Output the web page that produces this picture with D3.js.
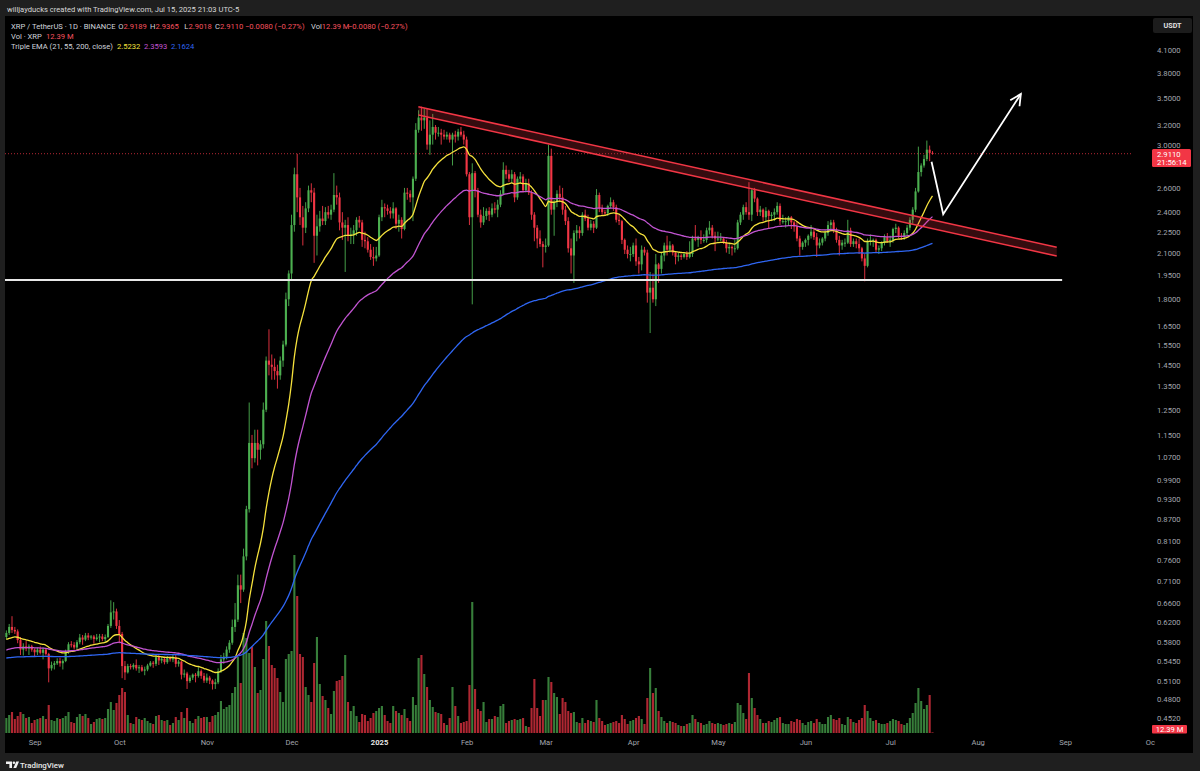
<!DOCTYPE html>
<html><head><meta charset="utf-8">
<script src="https://cdn.jsdelivr.net/npm/d3@7"></script>
<style>
html,body{margin:0;padding:0;background:#1f1f1f;}
svg{display:block;font-family:Roboto,"Noto Sans",sans-serif;}
</style></head><body>
<svg id="chart" width="1200" height="771"></svg>
<script>
// ---------------- DATA (XRP/USDT, 1D, Binance) ----------------
const START_DAY = "2024-08-22"; // first candle, one candle per day
const OPEN = [
 .590,.598,.610,.604,.601,.584,.566,.572,.568,.572,
 .566,.561,.566,.560,.566,.558,.532,.538,.541,.545,.541,.545,.562,.576,.575,.570,.580,.589,.585,.593,.589,.591,.586,.589,.591,.586,.590,.612,.640,.642,
 .612,.596,.536,.525,.536,.534,.538,.532,.534,.528,.530,.537,.542,.540,.552,.546,.549,.543,.551,.548,.552,.540,.544,.521,.523,.510,.516,.521,.519,.527,.519,
 .511,.516,.511,.505,.508,.527,.548,.553,.566,.579,.610,.625,.700,.690,.770,.900,1.120,1.065,1.120,1.095,1.115,1.250,1.470,1.450,1.440,1.420,1.400,1.470,1.550,1.800,
 1.960,2.300,2.720,2.520,2.360,2.280,2.430,2.580,2.560,2.220,2.290,2.350,2.330,2.400,2.380,2.420,2.540,2.520,2.320,2.280,2.300,2.220,2.230,2.260,2.340,2.320,2.190,2.180,2.120,2.070,2.060,
 2.080,2.360,2.440,2.430,2.410,2.390,2.430,2.310,2.340,2.270,2.560,2.550,2.520,2.680,3.150,3.280,3.250,3.280,3.000,3.100,3.180,3.120,3.120,3.100,3.080,3.100,3.050,3.100,3.080,3.130,3.100,
 3.050,2.720,2.360,2.730,2.580,2.380,2.320,2.370,2.410,2.380,2.430,2.420,2.460,2.550,2.760,2.720,2.680,2.720,2.520,2.680,2.700,2.580,2.640,2.560,2.380,2.280,2.200,2.160,
 2.140,2.150,2.890,2.420,2.480,2.550,2.520,2.420,2.330,2.130,2.080,2.240,2.260,2.240,2.380,2.350,2.280,2.310,2.280,2.540,2.430,2.400,2.390,2.450,2.480,2.440,2.340,2.330,2.190,2.120,2.090,
 2.090,2.150,2.040,2.020,2.120,2.100,1.840,1.870,1.800,2.020,1.990,2.080,2.150,2.120,2.150,2.100,2.070,2.080,2.070,2.090,2.070,2.090,2.200,2.190,2.210,2.190,2.190,2.260,2.280,2.220,
 2.200,2.200,2.200,2.170,2.130,2.140,2.130,2.130,2.320,2.380,2.440,2.400,2.380,2.580,2.510,2.400,2.420,2.360,2.410,2.370,2.380,2.400,2.450,2.330,2.330,2.330,2.360,2.320,2.290,2.200,2.140,
 2.170,2.190,2.220,2.250,2.210,2.150,2.170,2.200,2.240,2.300,2.320,2.260,2.190,2.150,2.170,2.170,2.260,2.160,2.180,2.160,2.130,2.060,2.010,2.180,2.190,2.190,2.120,2.130,2.170,2.210,
 2.180,2.190,2.270,2.280,2.220,2.210,2.240,2.280,2.340,2.420,2.570,2.740,2.800,2.860,2.950,2.9189];
const HIGH = [
 .603,.616,.632,.610,.605,.590,.578,.582,.576,.575,
 .568,.570,.572,.570,.569,.560,.544,.545,.550,.551,.548,.566,.580,.582,.580,.584,.596,.594,.598,.598,.594,.594,.596,.596,.596,.595,.616,.666,.662,.648,
 .624,.600,.545,.540,.540,.541,.548,.538,.538,.535,.540,.545,.545,.556,.558,.553,.552,.554,.553,.556,.557,.547,.545,.530,.526,.520,.523,.524,.534,.530,.524,
 .523,.519,.513,.514,.532,.556,.560,.572,.584,.625,.660,.725,.725,.790,.910,1.280,1.150,1.170,1.170,1.130,1.280,1.490,1.630,1.500,1.480,1.450,1.490,1.570,1.840,1.980,
 2.380,2.780,2.910,2.600,2.450,2.480,2.620,2.640,2.600,2.380,2.410,2.450,2.440,2.450,2.460,2.730,2.620,2.560,2.400,2.340,2.360,2.280,2.300,2.360,2.370,2.340,2.250,2.210,2.160,2.140,2.140,
 2.380,2.500,2.470,2.460,2.440,2.480,2.440,2.380,2.360,2.600,2.600,2.580,2.700,3.220,3.360,3.400,3.380,3.380,3.250,3.320,3.200,3.180,3.160,3.150,3.130,3.120,3.120,3.140,3.160,3.180,3.140,
 3.080,2.740,2.820,2.750,2.600,2.420,2.440,2.430,2.440,2.470,2.480,2.500,2.580,2.830,2.800,2.760,2.760,2.740,2.700,2.740,2.720,2.680,2.680,2.580,2.400,2.300,2.260,2.180,
 2.200,3.000,2.960,2.500,2.580,2.620,2.600,2.450,2.360,2.200,2.260,2.300,2.290,2.400,2.420,2.380,2.340,2.330,2.590,2.560,2.460,2.420,2.460,2.520,2.500,2.460,2.380,2.340,2.200,2.150,2.140,
 2.170,2.200,2.070,2.150,2.140,2.120,1.970,1.960,2.090,2.030,2.100,2.170,2.220,2.180,2.160,2.110,2.100,2.090,2.100,2.110,2.180,2.220,2.300,2.220,2.260,2.230,2.280,2.330,2.300,2.250,
 2.250,2.240,2.210,2.190,2.160,2.150,2.190,2.340,2.400,2.460,2.480,2.650,2.600,2.600,2.520,2.450,2.430,2.440,2.420,2.400,2.430,2.480,2.470,2.380,2.360,2.370,2.370,2.330,2.330,2.220,2.180,
 2.200,2.230,2.300,2.270,2.240,2.200,2.210,2.260,2.330,2.340,2.340,2.280,2.220,2.190,2.200,2.340,2.280,2.200,2.200,2.200,2.140,2.090,2.200,2.230,2.200,2.200,2.150,2.180,2.230,2.240,
 2.220,2.280,2.310,2.290,2.240,2.260,2.300,2.360,2.440,2.600,2.980,2.820,2.900,3.040,2.990,2.9365];
const LOW = [
 .585,.594,.598,.596,.578,.556,.555,.563,.556,.562,
 .553,.556,.557,.548,.555,.508,.528,.530,.538,.535,.530,.543,.558,.570,.566,.566,.576,.575,.582,.584,.585,.577,.583,.580,.582,.581,.588,.608,.625,.606,
 .578,.515,.512,.523,.530,.530,.528,.524,.526,.520,.527,.535,.533,.536,.538,.541,.539,.540,.544,.543,.534,.535,.513,.516,.497,.507,.512,.508,.516,.514,.507,
 .507,.505,.496,.497,.505,.524,.540,.548,.560,.575,.600,.620,.660,.685,.760,.890,1.030,1.050,1.040,1.060,1.100,1.240,1.400,1.380,1.380,1.340,1.380,1.440,1.540,1.760,
 1.920,2.250,2.400,2.300,2.150,2.240,2.400,2.480,2.030,2.080,2.250,2.300,2.300,2.350,2.340,2.400,2.460,2.260,2.190,1.970,2.180,2.160,2.160,2.220,2.280,2.140,2.130,2.100,2.050,2.010,2.040,
 2.070,2.330,2.360,2.380,2.350,2.350,2.270,2.250,2.200,2.260,2.500,2.480,2.330,2.660,3.120,3.140,3.160,2.950,2.900,3.000,3.050,3.080,3.000,3.050,3.050,3.020,2.800,3.020,3.040,3.080,3.000,
 2.700,2.300,1.770,2.520,2.360,2.280,2.300,2.340,2.330,2.360,2.390,2.360,2.440,2.540,2.680,2.650,2.640,2.480,2.500,2.640,2.560,2.560,2.540,2.340,2.180,2.130,2.140,2.000,
 2.100,2.140,2.380,2.220,2.440,2.480,2.380,2.300,2.100,1.960,1.900,2.180,2.200,2.220,2.330,2.260,2.260,2.240,2.270,2.400,2.380,2.370,2.370,2.430,2.410,2.320,2.300,2.160,2.090,2.060,2.040,
 2.070,2.010,1.960,1.980,2.080,1.780,1.610,1.780,1.760,1.900,1.960,2.040,2.080,2.100,2.080,2.020,2.040,2.050,2.060,2.050,2.060,2.070,2.180,2.140,2.160,2.170,2.170,2.230,2.200,2.110,
 2.180,2.180,2.160,2.100,2.090,2.080,2.100,2.120,2.300,2.340,2.380,2.340,2.330,2.480,2.370,2.370,2.330,2.330,2.270,2.330,2.330,2.380,2.300,2.310,2.280,2.300,2.270,2.250,2.180,2.080,2.120,
 2.140,2.150,2.200,2.190,2.070,2.130,2.150,2.180,2.220,2.260,2.240,2.170,2.080,2.120,2.140,2.160,2.140,2.140,2.130,2.090,2.040,1.910,2.000,2.150,2.140,2.100,2.090,2.110,2.150,2.170,
 2.140,2.170,2.240,2.200,2.190,2.190,2.220,2.260,2.310,2.400,2.560,2.700,2.780,2.840,2.840,2.9018];
const CLOSE = [
 .598,.610,.604,.601,.584,.566,.572,.568,.572,.566,
 .561,.566,.560,.566,.558,.532,.538,.541,.545,.541,.545,.562,.576,.575,.570,.580,.589,.585,.593,.589,.591,.586,.589,.591,.586,.590,.612,.640,.642,.612,
 .596,.536,.525,.536,.534,.538,.532,.534,.528,.530,.537,.542,.540,.552,.546,.549,.543,.551,.548,.552,.540,.544,.521,.523,.510,.516,.521,.519,.527,.519,.511,
 .516,.511,.505,.508,.527,.548,.553,.566,.579,.610,.625,.700,.690,.770,.900,1.120,1.065,1.120,1.095,1.115,1.250,1.470,1.450,1.440,1.420,1.400,1.470,1.550,1.800,1.960,
 2.300,2.720,2.520,2.360,2.280,2.430,2.580,2.560,2.220,2.290,2.350,2.330,2.400,2.380,2.420,2.540,2.520,2.320,2.280,2.300,2.220,2.230,2.260,2.340,2.320,2.190,2.180,2.120,2.070,2.060,2.080,
 2.360,2.440,2.430,2.410,2.390,2.430,2.310,2.340,2.270,2.560,2.550,2.520,2.680,3.150,3.280,3.250,3.280,3.000,3.100,3.180,3.120,3.120,3.100,3.080,3.100,3.050,3.100,3.080,3.130,3.100,3.050,
 2.720,2.360,2.730,2.580,2.380,2.320,2.370,2.410,2.380,2.430,2.420,2.460,2.550,2.760,2.720,2.680,2.720,2.520,2.680,2.700,2.580,2.640,2.560,2.380,2.280,2.200,2.160,2.140,
 2.150,2.890,2.420,2.480,2.550,2.520,2.420,2.330,2.130,2.080,2.240,2.260,2.240,2.380,2.350,2.280,2.310,2.280,2.540,2.430,2.400,2.390,2.450,2.480,2.440,2.340,2.330,2.190,2.120,2.090,2.090,
 2.150,2.040,2.020,2.120,2.100,1.840,1.870,1.800,2.020,1.990,2.080,2.150,2.120,2.150,2.100,2.070,2.080,2.070,2.090,2.070,2.090,2.200,2.190,2.210,2.190,2.190,2.260,2.280,2.220,2.200,
 2.200,2.200,2.170,2.130,2.140,2.130,2.130,2.320,2.380,2.440,2.400,2.380,2.580,2.510,2.400,2.420,2.360,2.410,2.370,2.380,2.400,2.450,2.330,2.330,2.330,2.360,2.320,2.290,2.200,2.140,2.170,
 2.190,2.220,2.250,2.210,2.150,2.170,2.200,2.240,2.300,2.320,2.260,2.190,2.150,2.170,2.170,2.260,2.160,2.180,2.160,2.130,2.060,2.010,2.180,2.190,2.190,2.120,2.130,2.170,2.210,2.180,
 2.190,2.270,2.280,2.220,2.210,2.240,2.280,2.340,2.420,2.570,2.740,2.800,2.860,2.950,2.919,2.9110];
// volume, millions of XRP
const VOLUME = [
 300,360,420,280,340,420,380,300,320,200,
 260,280,300,340,280,560,260,240,300,280,300,340,420,220,200,320,380,340,380,300,180,220,280,300,280,300,480,620,460,600,
 760,900,820,360,200,180,320,280,260,300,240,200,180,340,360,260,240,260,160,200,320,260,420,300,500,240,200,280,340,300,320,
 320,220,340,360,420,640,480,520,560,800,920,1520,1000,2000,1900,1600,1720,1320,800,860,1480,2240,1740,1360,1300,1100,820,620,1480,1580,
 1640,3560,2740,1580,1520,920,760,620,1400,1920,980,740,660,500,380,840,1040,1060,1140,1560,620,440,540,340,220,380,360,240,300,400,440,
 500,540,360,240,200,540,440,400,360,480,300,240,720,560,1500,1560,1180,920,660,520,420,400,380,200,160,300,920,540,340,200,220,
 240,960,2620,880,480,440,620,220,280,280,340,320,540,580,200,240,260,280,260,280,300,140,120,500,1080,500,340,660,
 660,1120,1020,800,720,380,700,620,440,400,420,220,200,300,200,260,240,220,660,300,240,160,180,200,220,240,200,360,280,180,240,
 260,300,340,280,180,700,1300,800,900,440,320,240,200,240,220,200,160,140,140,180,200,360,280,220,200,160,180,240,200,180,
 200,180,160,180,200,180,220,600,560,400,280,1200,700,500,360,280,200,200,240,220,260,300,320,200,180,180,240,220,280,260,200,
 160,220,240,200,280,220,180,180,320,360,280,260,300,180,160,320,280,220,200,260,300,560,440,300,240,260,200,180,180,200,
 240,280,260,240,180,160,200,300,400,600,900,640,480,560,760,12.39];

// EMA periods and their values just before the first candle
const EMA_PERIODS = [21, 55, 200];
const EMA_SEEDS = [0.584, 0.564, 0.550];
const EMA_LAST = ["2.5232", "2.3593", "2.1624"];

// axis labels (the 2.8000 label sits under the last-price tag in the reference)
const PRICE_TICKS = [4.1,3.8,3.5,3.2,3.0,2.6,2.4,2.25,2.1,1.95,1.8,1.65,1.55,1.45,1.35,1.25,1.15,1.07,0.99,0.93,0.87,0.81,0.76,0.71,0.66,0.62,0.58,0.545,0.51,0.48,0.452];
const TIME_TICKS = ["2024-09-01","2024-10-01","2024-11-01","2024-12-01","2025-01-01","2025-02-01","2025-03-01","2025-04-01","2025-05-01","2025-06-01","2025-07-01","2025-08-01","2025-09-01","2025-10-01"];
const TIME_LABELS = ["Sep","Oct","Nov","Dec","2025","Feb","Mar","Apr","May","Jun","Jul","Aug","Sep","Oc"];

// drawings (date, price)
const TREND_UPPER = [["2025-01-14T22:00Z", 3.40], ["2025-08-29T00:00Z", 2.137]];
const TREND_LOWER = [["2025-01-14T22:00Z", 3.307], ["2025-08-29T00:00Z", 2.076]];
const SUPPORT = [["2024-08-21T12:00Z", 1.918], ["2025-08-30T22:00Z", 1.918]];
const ARROW = [["2025-07-15T16:00Z", 2.835], ["2025-07-19T19:00Z", 2.383], ["2025-08-16T07:00Z", 3.545]];
const LAST_PRICE = 2.9110;
const LAST_VOL = "12.39 M";
const COUNTDOWN = "21:56:14";

// ---------------- CHART ----------------
const W = 1200, H = 771;
const P = {l:5, t:16, r:1133, b:733};
const UP = "#4caf50", DOWN = "#f23645";
const VOL_UP = "rgba(76,175,80,0.72)", VOL_DOWN = "rgba(242,54,69,0.72)";
const EMA_COLORS = ["#f5e13c", "#c154d1", "#2f66f2"];
const AXIS_TXT = "#a3a6ae";

const svg = d3.select("#chart");
svg.append("rect").attr("width", W).attr("height", H).attr("fill", "#1f1f1f");
svg.append("rect").attr("x", 5).attr("y", 16).attr("width", 1188).attr("height", 737).attr("fill", "#000");

const parse = s => new Date(s.length === 10 ? s + "T00:00:00Z" : s);
const t0 = parse(START_DAY);
const dates = CLOSE.map((_, i) => d3.utcDay.offset(t0, i));

const x = d3.scaleUtc().domain([parse("2024-09-01"), parse("2025-09-01")]).range([34.6, 1065.2]);
const y = d3.scaleLog().domain([0.452, 4.1]).range([717.7, 50]);
const yv = d3.scaleLinear().domain([0, 3560]).range([P.b, 555]);

svg.append("clipPath").attr("id", "pane").append("rect")
  .attr("x", P.l).attr("y", P.t).attr("width", P.r - P.l).attr("height", P.b - P.t);
const g = svg.append("g").attr("clip-path", "url(#pane)");

// volume
const idx = d3.range(CLOSE.length);
const bw = 2.1;
g.append("g").selectAll("rect").data(idx).join("rect")
  .attr("x", i => x(dates[i]) - bw / 2).attr("width", bw)
  .attr("y", i => yv(VOLUME[i])).attr("height", i => Math.max(0.6, yv(0) - yv(VOLUME[i])))
  .attr("fill", i => CLOSE[i] >= OPEN[i] ? VOL_UP : VOL_DOWN);

// candles
const gc = g.append("g");
gc.selectAll("line").data(idx).join("line")
  .attr("x1", i => x(dates[i])).attr("x2", i => x(dates[i]))
  .attr("y1", i => y(HIGH[i])).attr("y2", i => y(LOW[i]))
  .attr("stroke", i => CLOSE[i] >= OPEN[i] ? UP : DOWN).attr("stroke-width", 0.9);
gc.selectAll("rect").data(idx).join("rect")
  .attr("x", i => x(dates[i]) - bw / 2).attr("width", bw)
  .attr("y", i => y(Math.max(OPEN[i], CLOSE[i])))
  .attr("height", i => Math.max(1, y(Math.min(OPEN[i], CLOSE[i])) - y(Math.max(OPEN[i], CLOSE[i]))))
  .attr("fill", i => CLOSE[i] >= OPEN[i] ? UP : DOWN);

// EMAs
function ema(src, n, seed) { const a = 2 / (n + 1); let e = seed; return src.map(c => (e = a * c + (1 - a) * e)); }
const line = d3.line().x((d, i) => x(dates[i])).y(d => y(d)).curve(d3.curveMonotoneX);
EMA_PERIODS.forEach((n, k) => {
  g.append("path").datum(ema(CLOSE, n, EMA_SEEDS[k]))
    .attr("d", line).attr("fill", "none").attr("stroke", EMA_COLORS[k]).attr("stroke-width", 1.3);
});

// drawings
const px = d => [x(parse(d[0])), y(d[1])];
const U = TREND_UPPER.map(px), L = TREND_LOWER.map(px);
g.append("path").attr("d", d3.line()([U[0], U[1], L[1], L[0]]) + "Z").attr("fill", "rgba(242,54,69,0.22)");
[U, L].forEach(pts => g.append("path").attr("d", d3.line()(pts)).attr("stroke", "#f23645").attr("stroke-width", 1.5).attr("fill", "none"));
g.append("path").attr("d", d3.line()(SUPPORT.map(px))).attr("stroke", "#e8e8e8").attr("stroke-width", 2).attr("fill", "none");

svg.append("defs").append("marker").attr("id", "ah").attr("markerUnits", "userSpaceOnUse")
  .attr("viewBox", "-14 -8 16 16").attr("refX", 0).attr("refY", 0).attr("markerWidth", 16).attr("markerHeight", 16).attr("orient", "auto")
  .append("path").attr("d", "M-11,-5.5L0,0L-11,5.5").attr("fill", "none").attr("stroke", "#fff").attr("stroke-width", 1.8);
g.append("path").attr("d", d3.line()(ARROW.map(px))).attr("stroke", "#fff").attr("stroke-width", 1.8)
  .attr("fill", "none").attr("marker-end", "url(#ah)");

// last price dotted line
g.append("line").attr("x1", P.l).attr("x2", P.r).attr("y1", y(LAST_PRICE)).attr("y2", y(LAST_PRICE))
  .attr("stroke", "#f23645").attr("stroke-opacity", 0.75).attr("stroke-dasharray", "1,2").attr("stroke-width", 1);

// time axis
const tAxis = svg.append("g").attr("transform", `translate(0,${P.b})`)
  .call(d3.axisBottom(x).tickValues(TIME_TICKS.map(parse)).tickSize(0).tickPadding(6.5)
    .tickFormat((d, i) => TIME_LABELS[i]));
tAxis.select(".domain").remove();
tAxis.selectAll("text").attr("font-size", 7.6).attr("font-family", "Roboto").attr("fill", AXIS_TXT)
  .filter((d, i) => TIME_LABELS[i] === "2025").attr("fill", "#e6e6e6").attr("font-weight", "bold");

// price axis column
const pAxis = svg.append("g").attr("transform", `translate(${P.r},0)`)
  .call(d3.axisRight(y).tickValues(PRICE_TICKS).tickSize(0).tickPadding(24).tickFormat(d3.format(".4f")));
pAxis.select(".domain").remove();
pAxis.selectAll("text").attr("font-size", 7.7).attr("font-family", "Roboto").attr("fill", AXIS_TXT);

// currency box
svg.append("rect").attr("x", 1153).attr("y", 18).attr("width", 39).attr("height", 15).attr("rx", 2).attr("fill", "#1c1c1c");
svg.append("text").attr("x", 1172.5).attr("y", 28.3).attr("text-anchor", "middle").attr("font-size", 7.2)
  .attr("font-weight", "bold").attr("fill", "#e0e0e0").text("USDT");

// last price label
const ly = y(LAST_PRICE);
svg.append("rect").attr("x", 1152).attr("y", ly - 4.7).attr("width", 39).attr("height", 18).attr("rx", 1.5).attr("fill", "#f23645");
svg.append("text").attr("x", 1157).attr("y", ly + 2.8).attr("font-size", 7.7).attr("fill", "#fff").text(d3.format(".4f")(LAST_PRICE));
svg.append("text").attr("x", 1157).attr("y", ly + 11).attr("font-size", 7.7).attr("fill", "#fff").text(COUNTDOWN);
// last volume label
svg.append("rect").attr("x", 1152).attr("y", 725).attr("width", 35).attr("height", 8.5).attr("rx", 1).attr("fill", "#f23645");
svg.append("text").attr("x", 1169.5).attr("y", 732).attr("text-anchor", "middle").attr("font-size", 7.6).attr("fill", "#fff").text(LAST_VOL);

// header
svg.append("text").attr("x", 7).attr("y", 11.5).attr("font-size", 7.6).attr("fill", "#d8d8d8")
  .text("willjayducks created with TradingView.com, Jul 15, 2025 21:03 UTC-5");

// legend
const LBL = "#d1d4dc", RED = "#f7525f";
const l1 = svg.append("text").attr("y", 28.8).attr("font-size", 7.6).attr("fill", LBL);
[["XRP / TetherUS · 1D · BINANCE", 11, LBL], ["O", 118.3, LBL], ["2.9189", null, RED], ["H", 150, LBL], ["2.9365", null, RED],
 ["L", 184.3, LBL], ["2.9018", null, RED], ["C", 215, LBL], ["2.9110", null, RED], ["−0.0080 (−0.27%)", 245, RED],
 ["Vol", 311, LBL], ["12.39 M", null, RED], ["−0.0080 (−0.27%)", 348, RED]].forEach(([t, xx, c]) => {
  const s = l1.append("tspan").attr("fill", c).text(t); if (xx !== null) s.attr("x", xx);
});
const l2 = svg.append("text").attr("y", 38.8).attr("font-size", 7.6).attr("fill", LBL);
l2.append("tspan").attr("x", 11).text("Vol · XRP");
l2.append("tspan").attr("x", 46).attr("fill", RED).text("12.39 M");
const l3 = svg.append("text").attr("y", 48.8).attr("font-size", 7.6).attr("fill", LBL);
l3.append("tspan").attr("x", 11).text("Triple EMA (21, 55, 200, close)");
[117, 144, 171].forEach((xx, k) => l3.append("tspan").attr("x", xx).attr("fill", EMA_COLORS[k]).text(EMA_LAST[k]));

// footer logo
const lg = svg.append("g").attr("fill", "#f0f0f0");
lg.append("path").attr("d", "M6,761.5h6v6.5h-2.6v-4h-3.4z");
lg.append("circle").attr("cx", 13.9).attr("cy", 762.8).attr("r", 1.3);
lg.append("path").attr("d", "M16.2,761.5h2.8l-2.8,6.5h-2.8z");
svg.append("text").attr("x", 20).attr("y", 768).attr("font-size", 7.9).attr("font-weight", 500).attr("fill", "#e8e8e8").text("TradingView");
</script>
</body></html>
